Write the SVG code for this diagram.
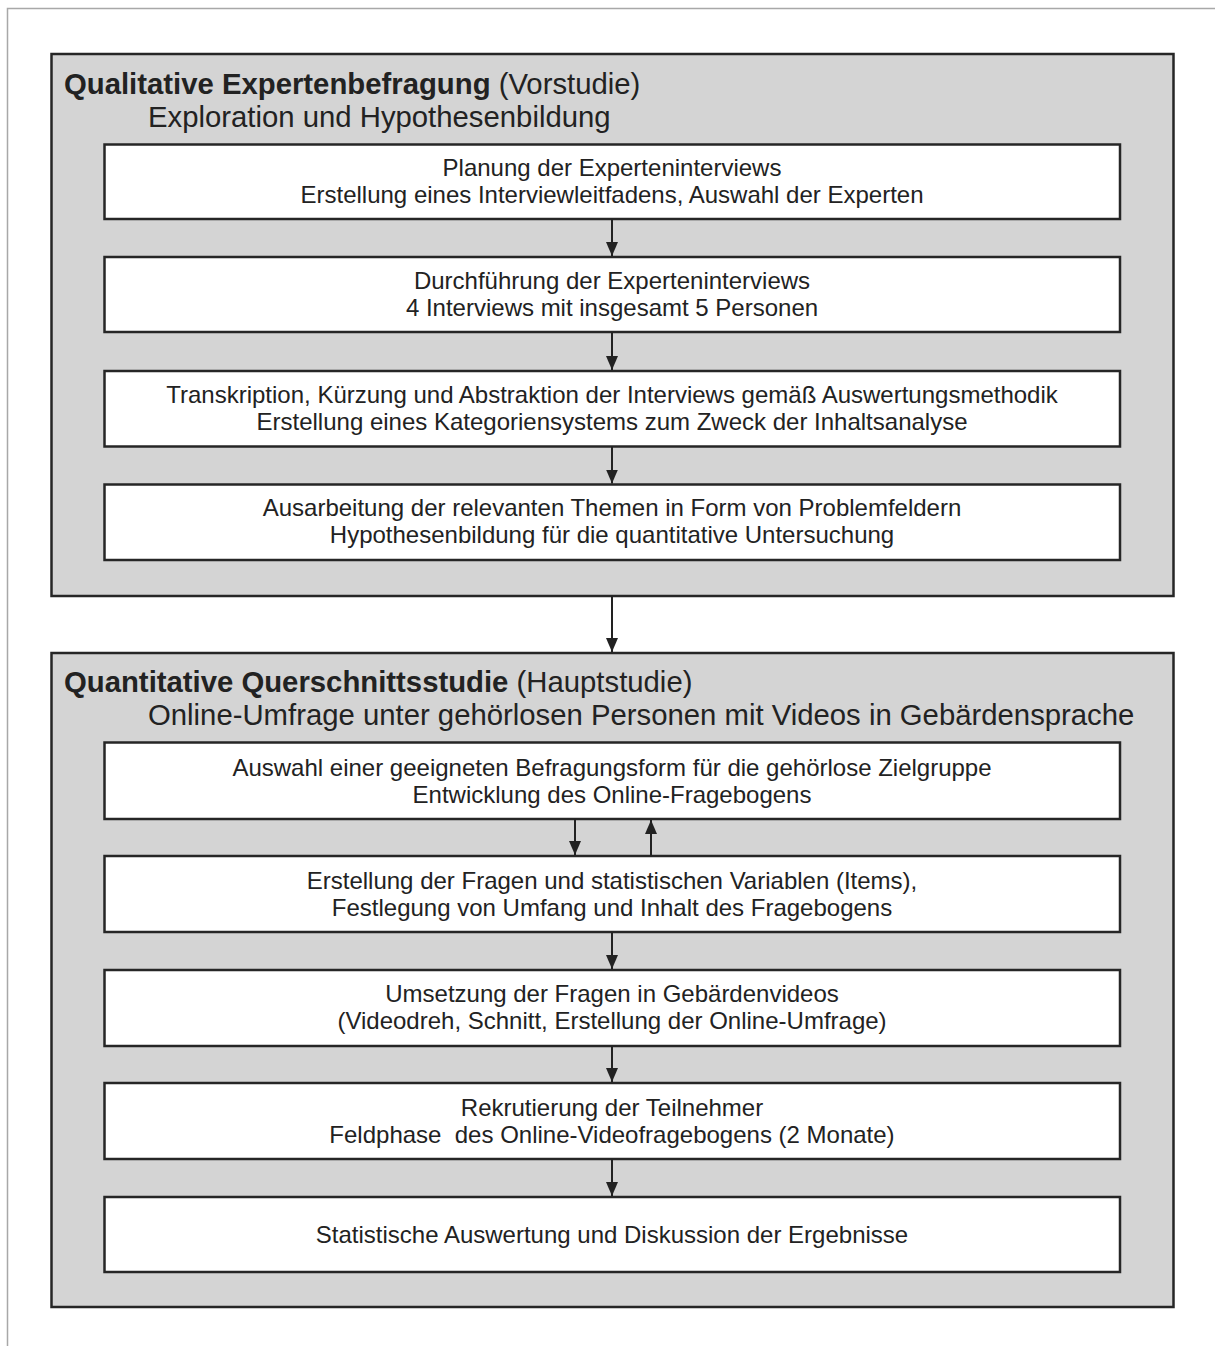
<svg xmlns="http://www.w3.org/2000/svg" width="1215" height="1346" viewBox="0 0 1215 1346">
<style>
.frame{fill:none;stroke:#a8a8a8;stroke-width:1.5}
.outer{fill:#d4d4d4;stroke:#262626;stroke-width:2.5}
.inner{fill:#ffffff;stroke:#262626;stroke-width:2.5}
.t{font-family:"Liberation Sans",Arial,sans-serif;font-size:24px;fill:#222;text-anchor:middle}
.h{font-family:"Liberation Sans",Arial,sans-serif;font-size:29.3px;fill:#222}
.b{font-weight:bold}
.conn{stroke:#222;stroke-width:2;fill:none}
</style>
<defs>
<marker id="ah" markerWidth="14" markerHeight="14" viewBox="0 0 14 14" refX="14" refY="7" orient="auto" markerUnits="userSpaceOnUse">
<path d="M0,1 L14,7 L0,13 Z" fill="#222"/>
</marker>
</defs>
<rect width="1215" height="1346" fill="#fff"/>
<path class="frame" d="M7.5,1346 V8.5 H1215"/>

<g id="phase1">
<rect class="outer" x="51.5" y="54" width="1122" height="542"/>
<text class="h" x="64" y="94"><tspan class="b">Qualitative Expertenbefragung</tspan> (Vorstudie)</text>
<text class="h" x="148" y="127">Exploration und Hypothesenbildung</text>
</g>
<g id="n1">
<rect class="inner" x="104.5" y="144.5" width="1015.5" height="74.5"/>
<text class="t" x="612" y="176">Planung der Experteninterviews</text>
<text class="t" x="612" y="203">Erstellung eines Interviewleitfadens, Auswahl der Experten</text>
</g>
<g id="n2">
<rect class="inner" x="104.5" y="257" width="1015.5" height="75"/>
<text class="t" x="612" y="289">Durchführung der Experteninterviews</text>
<text class="t" x="612" y="316">4 Interviews mit insgesamt 5 Personen</text>
</g>
<g id="n3">
<rect class="inner" x="104.5" y="371" width="1015.5" height="75.5"/>
<text class="t" x="612" y="403">Transkription, Kürzung und Abstraktion der Interviews gemäß Auswertungsmethodik</text>
<text class="t" x="612" y="430">Erstellung eines Kategoriensystems zum Zweck der Inhaltsanalyse</text>
</g>
<g id="n4">
<rect class="inner" x="104.5" y="484.5" width="1015.5" height="75.5"/>
<text class="t" x="612" y="516">Ausarbeitung der relevanten Themen in Form von Problemfeldern</text>
<text class="t" x="612" y="543">Hypothesenbildung für die quantitative Untersuchung</text>
</g>

<g id="phase2">
<rect class="outer" x="51.5" y="653" width="1122" height="654"/>
<text class="h" x="64" y="692"><tspan class="b">Quantitative Querschnittsstudie</tspan> (Hauptstudie)</text>
<text class="h" x="148" y="725">Online-Umfrage unter gehörlosen Personen mit Videos in Gebärdensprache</text>
</g>
<g id="m1">
<rect class="inner" x="104.5" y="742.5" width="1015.5" height="76.5"/>
<text class="t" x="612" y="776">Auswahl einer geeigneten Befragungsform für die gehörlose Zielgruppe</text>
<text class="t" x="612" y="803">Entwicklung des Online-Fragebogens</text>
</g>
<g id="m2">
<rect class="inner" x="104.5" y="856" width="1015.5" height="76"/>
<text class="t" x="612" y="889">Erstellung der Fragen und statistischen Variablen (Items),</text>
<text class="t" x="612" y="916">Festlegung von Umfang und Inhalt des Fragebogens</text>
</g>
<g id="m3">
<rect class="inner" x="104.5" y="970" width="1015.5" height="76"/>
<text class="t" x="612" y="1002">Umsetzung der Fragen in Gebärdenvideos</text>
<text class="t" x="612" y="1029">(Videodreh, Schnitt, Erstellung der Online-Umfrage)</text>
</g>
<g id="m4">
<rect class="inner" x="104.5" y="1083" width="1015.5" height="76"/>
<text class="t" x="612" y="1116">Rekrutierung der Teilnehmer</text>
<text class="t" x="612" y="1143" xml:space="preserve">Feldphase  des Online-Videofragebogens (2 Monate)</text>
</g>
<g id="m5">
<rect class="inner" x="104.5" y="1197" width="1015.5" height="75"/>
<text class="t" x="612" y="1243">Statistische Auswertung und Diskussion der Ergebnisse</text>
</g>

<g id="connectors">
<line class="conn" x1="612" y1="219" x2="612" y2="256" marker-end="url(#ah)"/>
<line class="conn" x1="612" y1="332" x2="612" y2="370" marker-end="url(#ah)"/>
<line class="conn" x1="612" y1="446.5" x2="612" y2="483.5" marker-end="url(#ah)"/>
<line class="conn" x1="612" y1="596" x2="612" y2="652" marker-end="url(#ah)"/>
<line class="conn" x1="575" y1="819" x2="575" y2="855" marker-end="url(#ah)"/>
<line class="conn" x1="651" y1="856" x2="651" y2="820" marker-end="url(#ah)"/>
<line class="conn" x1="612" y1="932" x2="612" y2="969" marker-end="url(#ah)"/>
<line class="conn" x1="612" y1="1046" x2="612" y2="1082" marker-end="url(#ah)"/>
<line class="conn" x1="612" y1="1159" x2="612" y2="1196" marker-end="url(#ah)"/>
</g>
</svg>
